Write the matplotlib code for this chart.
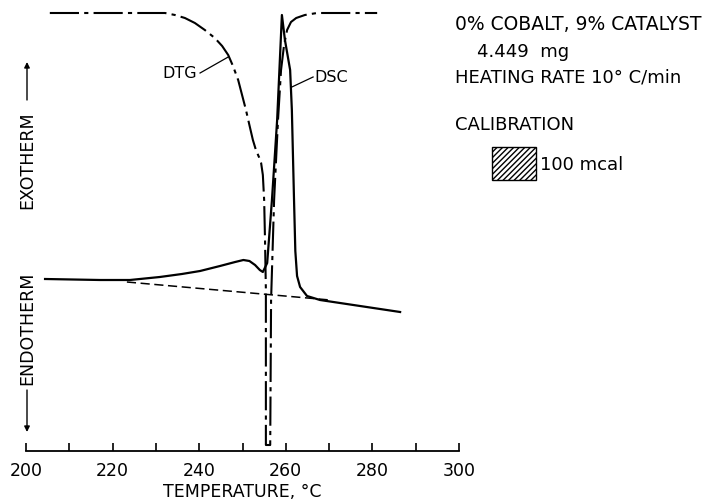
import matplotlib
matplotlib.use("Agg")
import matplotlib.pyplot as plt
from matplotlib.patches import Rectangle

plt.rcParams.update({"font.family": "DejaVu Sans", "font.size": 12.5})

# DSC trace (solid): temperature in degC, signal in chart units
dsc_t = [204.4, 217.1, 224.0, 230.9, 236.0, 240.2, 244.8, 248.3, 250.2, 251.6,
         252.9, 254.0, 254.7, 255.7, 256.8, 258.0, 259.1, 259.8, 261.0, 261.4,
         261.9, 262.2, 262.6, 263.3, 264.9, 267.9, 286.4]
dsc_y = [172, 171, 171, 174, 177, 180, 185, 189, 191, 190,
         186, 181, 179, 188, 251, 331, 436, 411, 381, 341,
         251, 200, 175, 164, 155, 151, 139]

# DTG trace (dash-dot)
dtg_t = [205.5, 232.1, 234.4, 236.7, 239.0, 241.3, 243.6, 245.3, 246.7, 247.8,
         249.0, 249.9, 250.8, 251.7, 252.4, 253.1, 253.8, 254.3, 254.7, 255.0,
         255.2, 255.4, 255.4, 256.4, 256.6, 257.3, 258.2, 258.9, 259.6, 260.3,
         261.2, 262.4, 264.4, 267.2, 281.1]
dtg_y = [438, 438, 436, 433, 428, 421, 413, 405, 396, 385,
         371, 356, 341, 324, 311, 301, 294, 288, 276, 251,
         211, 161, 6, 6, 151, 251, 331, 381, 406, 421,
         429, 433, 436, 438, 438]

# extrapolated DSC baseline (dashed)
base_t = [223.3, 270.2]
base_y = [169, 151]

major_ticks = [200, 220, 240, 260, 280, 300]
minor_ticks = [210, 230, 250, 270, 290]

fig = plt.figure(figsize=(7.24, 5.01), dpi=100)
ax = fig.add_axes([26 / 724, 50 / 501, 433 / 724, 451 / 501])
ax.set_xlim(200, 300)
ax.set_ylim(0, 451)

ax.plot(dsc_t, dsc_y, color="black", lw=1.6, solid_joinstyle="round")
ax.plot(dtg_t, dtg_y, color="black", lw=1.5, dashes=(14, 2.5, 2, 2.5))
ax.plot(base_t, base_y, color="black", lw=1.1, dashes=(6, 3))

# curve labels with leader lines
ax.plot([240.2, 246.7], [378, 394], color="black", lw=0.9)
ax.text(239.6, 378, "DTG", ha="right", va="center", fontsize=11.5)
ax.plot([261.4, 266.3], [364, 374], color="black", lw=0.9)
ax.text(266.6, 373, "DSC", ha="left", va="center", fontsize=11.5)

for s in ("top", "right", "left"):
    ax.spines[s].set_visible(False)
ax.spines["bottom"].set_linewidth(1.3)
ax.set_yticks([])
ax.set_xticks(major_ticks)
ax.set_xticks(minor_ticks, minor=True)
ax.tick_params(axis="x", which="both", direction="in", length=6, width=1.2, pad=8)
ax.set_xlabel("TEMPERATURE, °C", labelpad=2)

# heat-flow direction labels with arrows
fig.text(27 / 724, 1 - 160 / 501, "EXOTHERM", rotation=90, ha="center", va="center")
fig.text(27 / 724, 1 - 328 / 501, "ENDOTHERM", rotation=90, ha="center", va="center")
arrow = dict(arrowstyle="-|>", color="black", lw=1, mutation_scale=8,
             shrinkA=0, shrinkB=0)
fig.patches  # keep figure-level arrows in pixel-fraction coordinates
ax.annotate("", xy=(27 / 724, 1 - 62 / 501), xytext=(27 / 724, 1 - 100 / 501),
            xycoords="figure fraction", textcoords="figure fraction", arrowprops=arrow)
ax.annotate("", xy=(27 / 724, 1 - 432 / 501), xytext=(27 / 724, 1 - 390 / 501),
            xycoords="figure fraction", textcoords="figure fraction", arrowprops=arrow)

# sample description
x0 = 455 / 724
fig.text(x0, 1 - 30 / 501, "0% COBALT, 9% CATALYST", va="baseline", fontsize=13.5)
fig.text(477 / 724, 1 - 57 / 501, "4.449  mg", va="baseline", fontsize=13)
fig.text(x0, 1 - 83 / 501, "HEATING RATE 10° C/min", va="baseline", fontsize=13)
fig.text(x0, 1 - 130 / 501, "CALIBRATION", va="baseline", fontsize=13)
fig.patches.append(Rectangle((492 / 724, 1 - 180 / 501), 44 / 724, 33 / 501,
                             transform=fig.transFigure, facecolor="white",
                             edgecolor="black", lw=1, hatch="//////"))
fig.text(540 / 724, 1 - 170 / 501, "100 mcal", va="baseline", fontsize=13)

fig.savefig("out.png", dpi=100)
